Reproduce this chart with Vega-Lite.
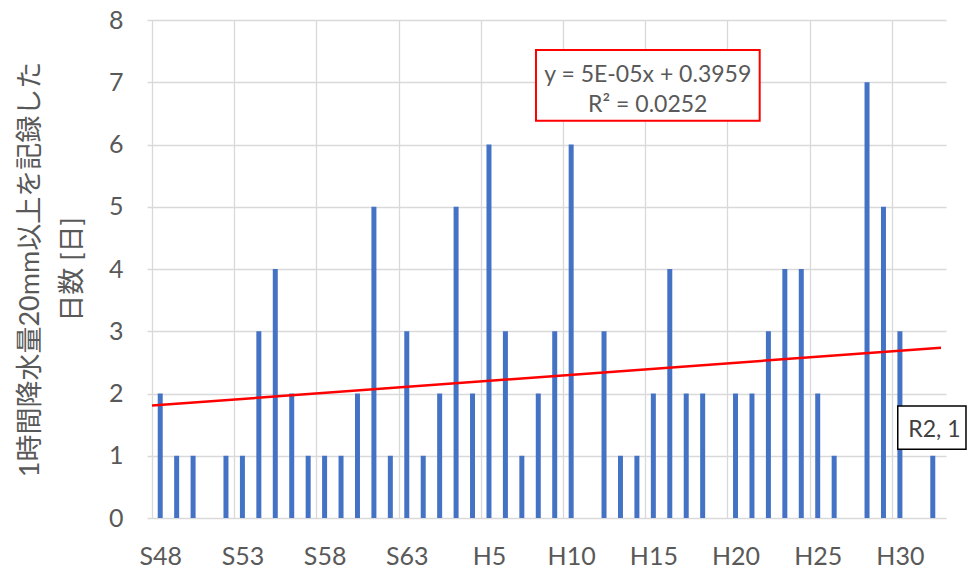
{
  "$schema": "https://vega.github.io/schema/vega-lite/v6.json",
  "width": 799,
  "height": 498,
  "autosize": "none",
  "padding": {"left": 147, "top": 20, "right": 27, "bottom": 58},
  "background": "white",
  "config": {
    "view": {"stroke": null},
    "font": "Lato, 'Noto Sans CJK JP'"
  },
  "data": {
    "values": [
      {"year": 1973, "label": "S48", "count": 2},
      {"year": 1974, "label": "S49", "count": 1},
      {"year": 1975, "label": "S50", "count": 1},
      {"year": 1976, "label": "S51", "count": 0},
      {"year": 1977, "label": "S52", "count": 1},
      {"year": 1978, "label": "S53", "count": 1},
      {"year": 1979, "label": "S54", "count": 3},
      {"year": 1980, "label": "S55", "count": 4},
      {"year": 1981, "label": "S56", "count": 2},
      {"year": 1982, "label": "S57", "count": 1},
      {"year": 1983, "label": "S58", "count": 1},
      {"year": 1984, "label": "S59", "count": 1},
      {"year": 1985, "label": "S60", "count": 2},
      {"year": 1986, "label": "S61", "count": 5},
      {"year": 1987, "label": "S62", "count": 1},
      {"year": 1988, "label": "S63", "count": 3},
      {"year": 1989, "label": "H1", "count": 1},
      {"year": 1990, "label": "H2", "count": 2},
      {"year": 1991, "label": "H3", "count": 5},
      {"year": 1992, "label": "H4", "count": 2},
      {"year": 1993, "label": "H5", "count": 6},
      {"year": 1994, "label": "H6", "count": 3},
      {"year": 1995, "label": "H7", "count": 1},
      {"year": 1996, "label": "H8", "count": 2},
      {"year": 1997, "label": "H9", "count": 3},
      {"year": 1998, "label": "H10", "count": 6},
      {"year": 1999, "label": "H11", "count": 0},
      {"year": 2000, "label": "H12", "count": 3},
      {"year": 2001, "label": "H13", "count": 1},
      {"year": 2002, "label": "H14", "count": 1},
      {"year": 2003, "label": "H15", "count": 2},
      {"year": 2004, "label": "H16", "count": 4},
      {"year": 2005, "label": "H17", "count": 2},
      {"year": 2006, "label": "H18", "count": 2},
      {"year": 2007, "label": "H19", "count": 0},
      {"year": 2008, "label": "H20", "count": 2},
      {"year": 2009, "label": "H21", "count": 2},
      {"year": 2010, "label": "H22", "count": 3},
      {"year": 2011, "label": "H23", "count": 4},
      {"year": 2012, "label": "H24", "count": 4},
      {"year": 2013, "label": "H25", "count": 2},
      {"year": 2014, "label": "H26", "count": 1},
      {"year": 2015, "label": "H27", "count": 0},
      {"year": 2016, "label": "H28", "count": 7},
      {"year": 2017, "label": "H29", "count": 5},
      {"year": 2018, "label": "H30", "count": 3},
      {"year": 2019, "label": "R1", "count": 0},
      {"year": 2020, "label": "R2", "count": 1}
    ]
  },
  "layer": [
    {
      "mark": {"type": "bar", "color": "#4472C4", "width": 5},
      "encoding": {
        "x": {
          "field": "year",
          "type": "quantitative",
          "scale": {"domain": [1972.5, 2020.5], "nice": false, "zero": false},
          "axis": {
            "orient": "bottom",
            "title": null,
            "values": [1973, 1978, 1983, 1988, 1993, 1998, 2003, 2008, 2013, 2018],
            "labelExpr": "datum.value < 1989 ? 'S' + (datum.value - 1925) : 'H' + (datum.value - 1988)",
            "grid": false,
            "ticks": false,
            "domain": false,
            "labelFontSize": 25,
            "labelColor": "#595959",
            "labelPadding": 26,
            "labelFlush": false,
            "labelOverlap": false
          }
        },
        "y": {
          "field": "count",
          "type": "quantitative",
          "scale": {"domain": [0, 8], "nice": false},
          "axis": {
            "values": [0, 1, 2, 3, 4, 5, 6, 7, 8],
            "format": "d",
            "grid": true,
            "gridColor": "#d9d9d9",
            "gridWidth": 1.3,
            "domain": false,
            "ticks": false,
            "labelFontSize": 25,
            "labelColor": "#595959",
            "labelPadding": 24,
            "title": ["1時間降水量20mm以上を記録した", "日数 [日]"],
            "titleFontSize": 27,
            "titleFontWeight": "normal",
            "titleColor": "#595959",
            "titleLineHeight": 42,
            "titlePadding": 22
          }
        }
      }
    },
    {
      "transform": [{"regression": "count", "on": "year", "extent": [1972.5, 2020.5]}],
      "mark": {"type": "line", "color": "#FF0000", "strokeWidth": 2.5},
      "encoding": {
        "x": {
          "field": "year",
          "type": "quantitative",
          "axis": {
            "orient": "bottom",
            "title": null,
            "values": [1972.5, 1977.5, 1982.5, 1987.5, 1992.5, 1997.5, 2002.5, 2007.5, 2012.5, 2017.5],
            "grid": true,
            "gridColor": "#d9d9d9",
            "gridWidth": 1.3,
            "labels": false,
            "ticks": false,
            "domain": false
          }
        },
        "y": {"field": "count", "type": "quantitative"}
      }
    },
    {
      "data": {"values": [{"note": "trendline equation"}]},
      "mark": {"type": "rect", "fill": "white", "stroke": "#FF0000", "strokeWidth": 2},
      "encoding": {
        "x": {"datum": 1995.86, "type": "quantitative", "axis": null},
        "x2": {"datum": 2009.47},
        "y": {"datum": 7.52, "type": "quantitative"},
        "y2": {"datum": 6.38}
      }
    },
    {
      "data": {"values": [{"note": "trendline equation"}]},
      "mark": {"type": "text", "fontSize": 23, "color": "#595959", "align": "center", "baseline": "middle", "lineHeight": 30},
      "encoding": {
        "x": {"datum": 2002.66, "type": "quantitative", "axis": null},
        "y": {"datum": 7.12, "type": "quantitative"},
        "text": {"value": ["y = 5E-05x + 0.3959", "R² = 0.0252"]}
      }
    },
    {
      "data": {"values": [{"note": "data label"}]},
      "mark": {"type": "rect", "fill": "white", "stroke": "black", "strokeWidth": 1.5},
      "encoding": {
        "x": {"datum": 2017.87, "type": "quantitative", "axis": null},
        "x2": {"datum": 2022.02},
        "y": {"datum": 1.8, "type": "quantitative"},
        "y2": {"datum": 1.105}
      }
    },
    {
      "data": {"values": [{"note": "data label"}]},
      "mark": {"type": "text", "fontSize": 23, "color": "#404040", "align": "center", "baseline": "middle"},
      "encoding": {
        "x": {"datum": 2020.1, "type": "quantitative", "axis": null},
        "y": {"datum": 1.41, "type": "quantitative"},
        "text": {"value": "R2, 1"}
      }
    }
  ],
  "resolve": {"axis": {"x": "independent"}}
}
